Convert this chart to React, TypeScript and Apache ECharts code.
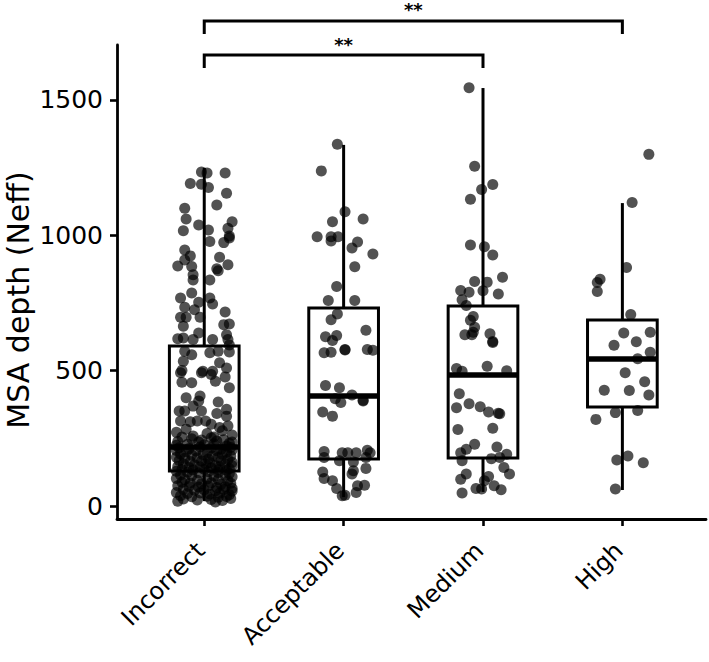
import React, { useEffect, useRef } from 'react';
import * as echarts from 'echarts';

const categories = ['Incorrect', 'Acceptable', 'Medium', 'High'];
const yTicks = [0, 500, 1000, 1500];

// [lower whisker, Q1, median, Q3, upper whisker]
const boxIncorrect = [18, 129, 218, 591, 1249];
const boxAcceptable = [33, 174, 406, 731, 1334];
const boxMedium = [52, 177, 484, 739, 1544];
const boxHigh = [59, 366, 543, 687, 1119];

// [jitter offset (category units), value]
const ptsIncorrect = [
  [-0.02, 1234], [0.02, 1230], [0.15, 1230], [-0.1, 1191], [-0.02, 1189], [0.03, 1177], [0.16, 1155],
  [0.09, 1112], [-0.14, 1100], [-0.13, 1060], [-0.04, 1038], [0.2, 1050], [0.17, 1026], [-0.15, 1017],
  [0.03, 1020], [0.18, 997], [0.18, 990], [0.04, 977], [0.14, 973], [-0.14, 946], [-0.1, 924], [-0.14, 909],
  [0.11, 919], [-0.19, 887], [-0.09, 885], [0.09, 876], [0.17, 891],
  [0.1, 869], [-0.08, 854], [-0.08, 835], [0.04, 835], [-0.09, 787], [-0.17, 768], [0.04, 768], [-0.04, 753],
  [0.06, 746], [-0.14, 734], [-0.07, 725], [0.15, 717], [-0.17, 697], [-0.13, 697], [-0.03, 697], [-0.15, 664],
  [0.14, 670], [0.18, 672], [-0.04, 639], [0.16, 633], [-0.19, 618], [-0.15, 621], [-0.08, 615], [0.06, 615],
  [0.17, 615], [0.18, 595], [-0.14, 572], [-0.09, 559], [0.04, 566], [0.1, 572], [0.18, 569], [-0.15, 535],
  [0.11, 529], [-0.16, 501], [-0.01, 498], [0.06, 498], [0.16, 510],
  [-0.17, 492], [-0.02, 492], [0.05, 486], [0.15, 477], [-0.16, 457], [-0.09, 455], [0.08, 461], [0.18, 437],
  [-0.13, 400], [-0.03, 406], [-0.04, 388], [0.1, 384], [-0.08, 369], [-0.18, 351], [-0.14, 351], [-0.02, 351],
  [0.09, 342], [0.16, 357], [0.16, 332], [-0.17, 314], [-0.1, 311], [-0.05, 314], [0.01, 314], [0.05, 302],
  [0.11, 290], [0.17, 296], [-0.08, 259], [-0.2, 272], [0.02, 268], [0.2, 262], [-0.13, 284], [0.13, 278], [0.07, 255],
  [-0.16, 255], [-0.09, 248], [0.05, 252], [0.14, 245], [-0.19, 238], [-0.04, 236], [0.09, 240], [0.18, 232],
  [-0.12, 228], [0.0, 226], [0.07, 230], [-0.2, 224], [0.16, 222], [0.2, 236], [-0.02, 244],
  [-0.18, 215], [-0.11, 212], [-0.03, 218], [0.05, 214], [0.12, 210], [0.19, 216],
  [-0.2, 205], [-0.13, 200], [-0.06, 203], [0.02, 198], [0.09, 204], [0.16, 199], [0.2, 207],
  [-0.17, 192], [-0.09, 188], [-0.01, 190], [0.06, 186], [0.13, 191], [0.19, 185],
  [-0.2, 180], [-0.14, 176], [-0.05, 178], [0.03, 174], [0.1, 179], [0.17, 172],
  [-0.18, 168], [-0.1, 164], [-0.02, 166], [0.04, 161], [0.12, 167], [0.2, 162],
  [-0.15, 156], [-0.07, 152], [0.01, 155], [0.08, 150], [0.15, 154], [0.2, 149],
  [-0.19, 146], [-0.11, 142], [-0.03, 144], [0.05, 140], [0.11, 145], [0.18, 138],
  [-0.16, 135], [-0.08, 133], [0.0, 136], [0.1, 134], [0.16, 132],
  [-0.2, 128], [-0.12, 125], [-0.04, 122], [0.03, 127], [0.1, 124], [0.18, 120],
  [-0.17, 115], [-0.09, 112], [0.07, 110], [0.15, 114], [0.2, 108],
  [-0.2, 102], [-0.14, 98], [-0.05, 95], [0.02, 100], [0.1, 97], [0.17, 93],
  [-0.16, 88], [-0.1, 85], [-0.02, 82], [0.05, 86], [0.12, 80], [0.19, 84],
  [-0.19, 75], [-0.11, 72], [-0.04, 70], [0.03, 74], [0.09, 68], [0.15, 71], [0.2, 66],
  [-0.15, 62], [-0.07, 58], [0.0, 60], [0.08, 56], [0.14, 61], [0.2, 55],
  [-0.2, 50], [-0.12, 46], [-0.03, 48], [0.04, 44], [0.11, 47], [0.18, 42],
  [-0.17, 38], [-0.09, 34], [0.02, 36], [0.1, 32], [0.16, 35],
  [-0.15, 26], [-0.05, 22], [0.05, 24], [0.13, 20], [0.19, 28], [-0.19, 18], [0.08, 15],
];

const ptsAcceptable = [
  [-0.045, 1336], [-0.16, 1238], [0.01, 1087], [-0.08, 1050], [0.14, 1060], [-0.19, 995], [-0.09, 995],
  [-0.04, 995], [-0.09, 979], [0.1, 975], [0.06, 953], [0.21, 931], [0.08, 884], [-0.05, 811], [-0.11, 759],
  [0.08, 759], [-0.045, 709], [-0.09, 688], [0.16, 649], [-0.13, 625], [-0.05, 630], [-0.08, 611],
  [-0.14, 566], [-0.09, 568], [0.01, 578], [0.01, 576], [0.17, 578], [0.21, 575], [-0.13, 445], [-0.03, 437],
  [-0.06, 396], [-0.02, 382], [0.06, 410], [0.14, 391], [0.14, 388], [-0.15, 347], [-0.08, 332], [-0.14, 201],
  [-0.01, 197], [0.03, 197], [0.09, 197], [0.17, 206], [0.19, 197], [-0.14, 179], [-0.03, 167],
  [0.07, 163], [0.16, 179], [0.16, 139], [-0.15, 126], [-0.14, 102], [0.06, 118], [0.07, 130],
  [-0.08, 93], [0.1, 75], [0.15, 77], [-0.05, 65], [-0.01, 38], [0.01, 40], [0.09, 50],
];

const ptsMedium = [
  [-0.1, 1545], [-0.06, 1255], [0.07, 1188], [-0.01, 1169], [-0.09, 1133], [-0.09, 964], [0.01, 958],
  [0.07, 927], [0.14, 845], [-0.06, 829], [0.03, 827], [-0.16, 796], [-0.1, 790], [0.0, 795], [0.11, 783],
  [-0.15, 762], [-0.12, 741], [-0.07, 700], [-0.09, 686], [-0.06, 660], [-0.13, 633], [-0.08, 633],
  [-0.07, 642], [0.05, 636], [0.07, 608], [0.07, 604], [-0.19, 508], [-0.15, 498], [0.03, 516], [0.17, 500],
  [-0.17, 415], [-0.1, 378], [-0.19, 363], [-0.02, 367], [0.04, 347], [0.12, 341], [0.11, 343], [-0.18, 283],
  [0.07, 287], [-0.06, 228], [0.1, 218], [-0.16, 197], [-0.12, 210], [0.17, 191], [-0.15, 167],
  [0.06, 175], [0.12, 179], [0.15, 142], [0.19, 118], [-0.12, 118], [-0.16, 99], [0.04, 109],
  [0.01, 93], [-0.05, 65], [-0.01, 63], [0.08, 75], [0.13, 60], [-0.15, 48],
];

const ptsHigh = [
  [0.19, 1299], [0.07, 1121], [0.03, 881], [-0.16, 838], [-0.18, 826], [-0.18, 792], [0.06, 707],
  [0.01, 639], [0.2, 642], [-0.06, 594], [0.1, 607], [0.11, 544], [0.2, 568], [0.02, 492], [-0.13, 428],
  [0.05, 427], [0.16, 459], [0.19, 410], [-0.05, 345], [0.11, 353], [-0.19, 320], [0.04, 185],
  [-0.04, 170], [0.15, 160], [-0.05, 63],
];

// significance brackets
const bracketFrom = [1, 1];
const bracketTo = [3, 4];
const bracketY = [1666, 1792];
const bracketLabels = ['**', '**'];

const boxes = [boxIncorrect, boxAcceptable, boxMedium, boxHigh];
const pointGroups = [ptsIncorrect, ptsAcceptable, ptsMedium, ptsHigh];

export default function App() {
  const ref = useRef<HTMLDivElement>(null);
  useEffect(() => {
    if (!ref.current) return;
    const chart = echarts.init(ref.current, undefined, { renderer: 'svg' });
    const font = 'DejaVu Sans';
    const boxHalf = 0.25;
    const drop = 48;
    const option: any = {
      animation: false,
      grid: { left: 117, right: 3, top: 45, bottom: 143 },
      xAxis: {
        type: 'value',
        min: 0.374,
        max: 4.6,
        axisLine: { show: true, onZero: false, lineStyle: { color: '#000', width: 2.8 } },
        axisTick: { show: true, customValues: [1, 2, 3, 4], length: 7, lineStyle: { color: '#000', width: 2.6 } },
        axisLabel: {
          show: true,
          customValues: [1, 2, 3, 4],
          formatter: (v: number) => categories[Math.round(v) - 1] || '',
          rotate: 45,
          fontSize: 24,
          fontFamily: font,
          color: '#000',
          margin: 24,
          padding: [0, 5, 0, 0],
        },
        splitLine: { show: false },
      },
      yAxis: {
        type: 'value',
        min: -48,
        max: 1703,
        axisLine: { show: true, onZero: false, lineStyle: { color: '#000', width: 2.8 } },
        axisTick: { show: true, customValues: yTicks, length: 7, lineStyle: { color: '#000', width: 2.6 } },
        axisLabel: {
          show: true,
          customValues: yTicks,
          formatter: (v: number) => String(v),
          fontSize: 25,
          fontFamily: font,
          color: '#000',
          margin: 14,
        },
        splitLine: { show: false },
      },
      graphic: [
        {
          type: 'text',
          x: 18,
          y: 300,
          rotation: Math.PI / 2,
          style: {
            text: 'MSA depth (Neff)',
            font: `30px "${font}"`,
            fill: '#000',
            textAlign: 'center',
            textVerticalAlign: 'middle',
          },
        },
      ],
      series: [
        {
          type: 'custom',
          silent: true,
          z: 1,
          clip: false,
          data: boxes.map((b, i) => [i + 1, ...b]),
          encode: { x: 0, y: [1, 2, 3, 4, 5] },
          renderItem: (params: any, api: any) => {
            const x = api.value(0);
            const lo = api.coord([x, api.value(1)]);
            const q1 = api.coord([x, api.value(2)]);
            const med = api.coord([x, api.value(3)]);
            const q3 = api.coord([x, api.value(4)]);
            const hi = api.coord([x, api.value(5)]);
            const left = api.coord([x - boxHalf, 0])[0];
            const right = api.coord([x + boxHalf, 0])[0];
            const st = { stroke: '#000', lineWidth: 3, fill: null };
            return {
              type: 'group',
              children: [
                { type: 'line', shape: { x1: lo[0], y1: lo[1], x2: q1[0], y2: q1[1] }, style: st },
                { type: 'line', shape: { x1: q3[0], y1: q3[1], x2: hi[0], y2: hi[1] }, style: st },
                {
                  type: 'rect',
                  shape: { x: left, y: q3[1], width: right - left, height: q1[1] - q3[1] },
                  style: { fill: '#fff', stroke: '#000', lineWidth: 3 },
                },
                { type: 'line', shape: { x1: left, y1: med[1], x2: right, y2: med[1] }, style: { stroke: '#000', lineWidth: 5.5 } },
              ],
            };
          },
        },
        ...pointGroups.map((g, i) => ({
          type: 'scatter',
          silent: true,
          z: 3,
          symbol: 'circle',
          symbolSize: 11,
          itemStyle: { color: '#000', opacity: 0.68 },
          data: g.map(([j, v]) => [i + 1 + j, v]),
        })),
        {
          type: 'custom',
          silent: true,
          z: 4,
          clip: false,
          data: bracketFrom.map((f, i) => [f, bracketTo[i], bracketY[i], i]),
          encode: { x: [0, 1], y: 2 },
          renderItem: (params: any, api: any) => {
            const a = api.value(0);
            const b = api.value(1);
            const y = api.value(2);
            const idx = api.value(3);
            const p1 = api.coord([a, y - drop]);
            const p2 = api.coord([a, y]);
            const p3 = api.coord([b, y]);
            const p4 = api.coord([b, y - drop]);
            const mid = api.coord([(a + b) / 2, y]);
            return {
              type: 'group',
              children: [
                {
                  type: 'polyline',
                  shape: { points: [p1, p2, p3, p4] },
                  style: { stroke: '#000', lineWidth: 3, fill: null },
                },
                {
                  type: 'text',
                  style: {
                    x: mid[0],
                    y: mid[1] - 11,
                    text: bracketLabels[idx],
                    font: `bold 18px "${font}"`,
                    lineHeight: 12,
                    fill: '#000',
                    textAlign: 'center',
                    textVerticalAlign: 'middle',
                  },
                },
              ],
            };
          },
        },
      ],
    };
    chart.setOption(option);
    return () => chart.dispose();
  }, []);
  return <div ref={ref} style={{ position: 'fixed', left: 0, top: 0, width: 709, height: 662, background: '#fff' }} />;
}
